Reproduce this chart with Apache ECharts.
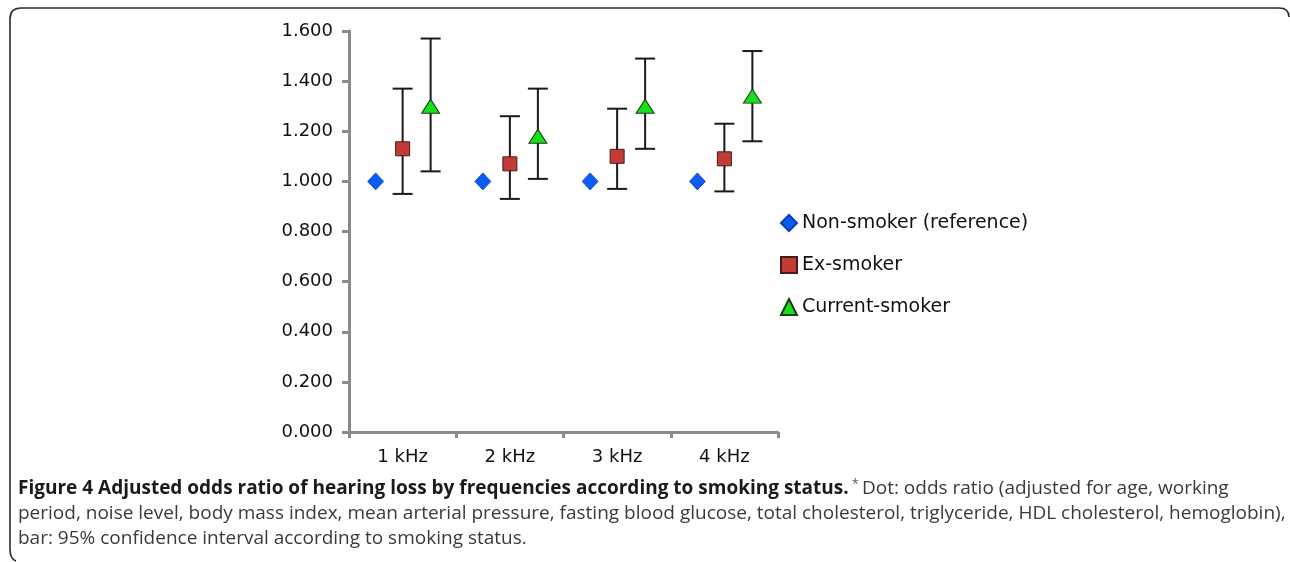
<!DOCTYPE html>
<html>
<head>
<meta charset="utf-8">
<script src="https://cdn.jsdelivr.net/npm/echarts@6/dist/echarts.min.js"></script>
<style>
html,body{margin:0;padding:0;background:#fff;}
#chart{width:1290px;height:562px;}
</style>
</head>
<body>
<div id="chart"></div>
<script>
const categories = ['1 kHz', '2 kHz', '3 kHz', '4 kHz'];
const seriesNames = ['Non-smoker (reference)', 'Ex-smoker', 'Current-smoker'];
const nonSmokerOR = [1.000, 1.000, 1.000, 1.000];
const exSmokerOR = [1.13, 1.07, 1.10, 1.09];
const exSmokerLow = [0.95, 0.93, 0.97, 0.96];
const exSmokerHigh = [1.37, 1.26, 1.29, 1.23];
const currentOR = [1.30, 1.18, 1.30, 1.34];
const currentLow = [1.04, 1.01, 1.13, 1.16];
const currentHigh = [1.57, 1.37, 1.49, 1.52];
const yTicks = { min: 0, max: 1.6, interval: 0.2 };
const captionBold = 'Figure 4 Adjusted odds ratio of hearing loss by frequencies according to smoking status.';
const captionLine1 = 'Dot: odds ratio (adjusted for age, working';
const captionLine2 = 'period, noise level, body mass index, mean arterial pressure, fasting blood glucose, total cholesterol, triglyceride, HDL cholesterol, hemoglobin),';
const captionLine3 = 'bar: 95% confidence interval according to smoking status.';

const chart = echarts.init(document.getElementById('chart'));

function ciData(low, high) {
  return low.map((l, i) => [i, l, high[i]]);
}
function errorBar(offset) {
  return function (params, api) {
    const idx = api.value(0);
    const p1 = api.coord([idx, api.value(1)]);
    const p2 = api.coord([idx, api.value(2)]);
    const x = p1[0] + offset;
    const cap = 10;
    const style = { stroke: '#1a1a1a', lineWidth: 2 };
    return {
      type: 'group',
      children: [
        { type: 'line', shape: { x1: x, y1: p1[1], x2: x, y2: p2[1] }, style },
        { type: 'line', shape: { x1: x - cap, y1: p1[1], x2: x + cap, y2: p1[1] }, style },
        { type: 'line', shape: { x1: x - cap, y1: p2[1], x2: x + cap, y2: p2[1] }, style }
      ]
    };
  };
}

const axisGray = '#8a8a8a';
const borderStyle = { stroke: '#2a2a2a', lineWidth: 1.6, fill: null };
const captionFont = 'Open Sans';
const option = {
  animation: false,
  backgroundColor: '#ffffff',
  grid: { left: 349, top: 31, width: 429, height: 401, containLabel: false },
  xAxis: {
    type: 'category',
    data: categories,
    boundaryGap: true,
    axisLine: { lineStyle: { color: axisGray, width: 3 } },
    axisTick: { show: true, length: 6, lineStyle: { color: axisGray, width: 3 } },
    axisLabel: { color: '#111', fontFamily: 'DejaVu Sans', fontSize: 18, margin: 16 },
    splitLine: { show: false }
  },
  yAxis: {
    type: 'value',
    min: yTicks.min, max: yTicks.max, interval: yTicks.interval,
    axisLine: { show: true, lineStyle: { color: axisGray, width: 3 } },
    axisTick: { show: true, length: 7, lineStyle: { color: axisGray, width: 3 } },
    axisLabel: { color: '#111', fontFamily: 'DejaVu Sans', fontSize: 18, margin: 16,
      formatter: v => v.toFixed(3) },
    splitLine: { show: false }
  },
  legend: {
    orient: 'vertical',
    left: 775, top: 208,
    itemWidth: 16, itemHeight: 16, itemGap: 22,
    textStyle: { color: '#111', fontFamily: 'DejaVu Sans', fontSize: 19, lineHeight: 20 },
    data: seriesNames
  },
  series: [
    { type: 'custom', name: 'exci', renderItem: errorBar(0), data: ciData(exSmokerLow, exSmokerHigh), z: 1, silent: true },
    { type: 'custom', name: 'curci', renderItem: errorBar(28), data: ciData(currentLow, currentHigh), z: 1, silent: true },
    { type: 'scatter', name: seriesNames[0], data: nonSmokerOR, symbol: 'diamond', symbolSize: [16, 17], symbolOffset: [-27, 0],
      itemStyle: { color: '#0a5cf5', borderColor: '#0a3fb0', borderWidth: 0.8, opacity: 1 }, z: 3 },
    { type: 'scatter', name: seriesNames[1], data: exSmokerOR, symbol: 'rect', symbolSize: 14, symbolOffset: [0, 0],
      itemStyle: { color: '#c33b36', borderColor: '#4a1a18', borderWidth: 1, opacity: 1 }, z: 3 },
    { type: 'scatter', name: seriesNames[2], data: currentOR, symbol: 'triangle', symbolSize: [18, 14], symbolOffset: [28, 0],
      itemStyle: { color: '#18e018', borderColor: '#1c3a1c', borderWidth: 1, opacity: 1 }, z: 3 }
  ],
  graphic: [
    { type: 'line', shape: { x1: 21, y1: 8, x2: 1279, y2: 8 }, style: borderStyle },
    { type: 'bezierCurve', shape: { x1: 1279, y1: 8, cpx1: 1289, cpy1: 8, x2: 1289, y2: 17 }, style: borderStyle },
    { type: 'bezierCurve', shape: { x1: 21, y1: 8, cpx1: 10, cpy1: 8, x2: 10, y2: 19 }, style: borderStyle },
    { type: 'line', shape: { x1: 10, y1: 19, x2: 10, y2: 549 }, style: borderStyle },
    { type: 'bezierCurve', shape: { x1: 10, y1: 549, cpx1: 10, cpy1: 559, x2: 16, y2: 561 }, style: borderStyle },
    { type: 'text', left: 18, top: 479,
      style: {
        text: '{b|' + captionBold + '} {s|*} {n|' + captionLine1 + '}',
        rich: {
          b: { fontFamily: captionFont, fontWeight: 'bold', fontSize: 19, fill: '#1a1a1a' },
          s: { fontFamily: captionFont, fontSize: 12, fill: '#555', verticalAlign: 'top' },
          n: { fontFamily: captionFont, fontSize: 19, fill: '#3a3a3a' }
        }
      } },
    { type: 'text', left: 18, top: 504,
      style: { text: captionLine2, fontFamily: captionFont, fontSize: 19, fill: '#3a3a3a' } },
    { type: 'text', left: 18, top: 529,
      style: { text: captionLine3, fontFamily: captionFont, fontSize: 19, fill: '#3a3a3a' } }
  ]
};
chart.setOption(option);
</script>
</body>
</html>
